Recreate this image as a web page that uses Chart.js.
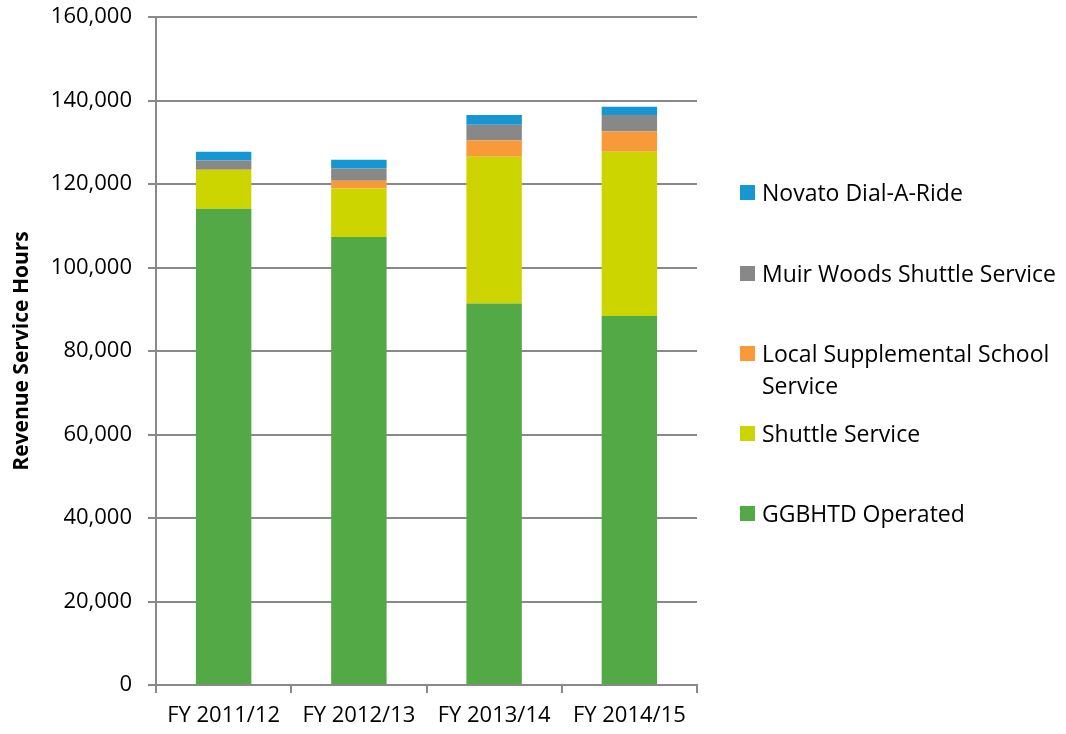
<!DOCTYPE html>
<html>
<head>
<meta charset="utf-8">
<script src="https://cdn.jsdelivr.net/npm/chart.js@4"></script>
<style>
  html, body { margin: 0; padding: 0; background: #fff; }
  #wrap { position: relative; width: 1066px; height: 734px; }
  #legend { position: absolute; left: 740px; top: 0; font-family: 'Open Sans', sans-serif; font-size: 23px; color: #000; }
  .item { position: absolute; left: 0; white-space: nowrap; }
  .sw { position: absolute; left: 0; width: 15px; height: 15px; }
  .lbl { position: absolute; left: 22px; line-height: 32px; }
</style>
</head>
<body>
<div id="wrap">
  <canvas id="chart" width="1066" height="734"></canvas>
  <div id="legend"></div>
</div>
<script>
// Revenue service hours by fiscal year
const years = ['FY 2011/12', 'FY 2012/13', 'FY 2013/14', 'FY 2014/15'];
const ggbhtd = [114100, 107300, 91400, 88400];
const shuttle = [9300, 11600, 35100, 39300];
const schoolService = [0, 1900, 3900, 4900];
const muirWoods = [2200, 2900, 3800, 3900];
const novato = [2100, 2100, 2300, 2000];

const seriesNames = ['GGBHTD Operated', 'Shuttle Service', 'Local Supplemental School Service', 'Muir Woods Shuttle Service', 'Novato Dial-A-Ride'];
const seriesColors = ['#53A946', '#CCD500', '#F99A3A', '#888888', '#1696D3'];

const font = "'Open Sans', sans-serif";
const gridGrey = '#898989';

const datasets = [ggbhtd, shuttle, schoolService, muirWoods, novato].map((vals, i) => ({
  label: seriesNames[i],
  data: vals,
  backgroundColor: seriesColors[i],
  borderWidth: 0,
  barPercentage: 0.41,
  categoryPercentage: 1
}));

new Chart(document.getElementById('chart').getContext('2d'), {
  type: 'bar',
  data: { labels: years, datasets: datasets },
  options: {
    responsive: false,
    animation: false,
    layout: { padding: { top: 17, right: 369, left: 9, bottom: 0 } },
    plugins: { legend: { display: false }, tooltip: { enabled: false } },
    scales: {
      x: {
        stacked: true,
        grid: { offset: true, drawOnChartArea: false, drawTicks: true, tickLength: 8, color: gridGrey, lineWidth: 2 },
        border: { color: gridGrey, width: 2 },
        ticks: { color: '#000', font: { family: font, size: 22 }, padding: 10, maxRotation: 0 },
        afterFit: function(scale) { scale.height = 49; scale.paddingLeft = 0; scale.paddingRight = 0; }
      },
      y: {
        stacked: true,
        min: 0,
        max: 160000,
        grid: { color: gridGrey, lineWidth: 2, tickLength: 8 },
        border: { color: gridGrey, width: 2 },
        ticks: {
          stepSize: 20000,
          color: '#000',
          font: { family: font, size: 22 },
          padding: 16,
          callback: function(v) { return v.toLocaleString('en-US'); }
        },
        title: {
          display: true,
          text: 'Revenue Service Hours',
          color: '#000',
          font: { family: font, size: 21, weight: 'bold' },
          padding: 0
        },
        afterFit: function(scale) { scale.width = 147; scale.paddingTop = 0; scale.paddingBottom = 0; }
      }
    }
  }
});

// legend on the right, top to bottom reversed
const legendRows = [
  { i: 4, top: 176 },
  { i: 3, top: 257 },
  { i: 2, top: 337 },
  { i: 1, top: 417 },
  { i: 0, top: 497 }
];
const legend = document.getElementById('legend');
legendRows.forEach(row => {
  const item = document.createElement('div');
  item.className = 'item';
  item.style.top = row.top + 'px';
  const sw = document.createElement('div');
  sw.className = 'sw';
  sw.style.background = seriesColors[row.i];
  sw.style.top = '9px';
  const lbl = document.createElement('div');
  lbl.className = 'lbl';
  lbl.innerHTML = row.i === 2 ? 'Local Supplemental School<br>Service' : seriesNames[row.i];
  item.appendChild(sw);
  item.appendChild(lbl);
  legend.appendChild(item);
});
</script>
</body>
</html>
